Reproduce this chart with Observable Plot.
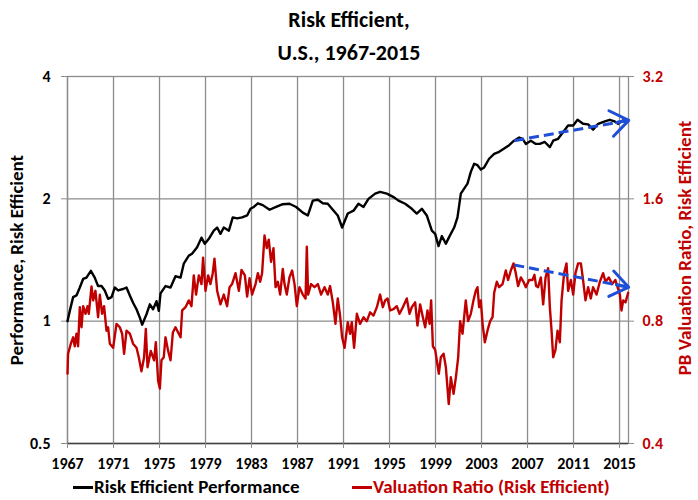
<!DOCTYPE html>
<html><head><meta charset="utf-8">
<script src="https://cdn.jsdelivr.net/npm/d3@7"></script>
<script src="https://cdn.jsdelivr.net/npm/@observablehq/plot@0.6"></script>
<style>
body{margin:0;background:#fff;}
#wrap{width:698px;height:500px;position:relative;background:#fff;font-family:Carlito,"Liberation Sans Narrow","Liberation Sans",Arial,sans-serif;}
#title{height:70px;box-sizing:border-box;padding-top:3px;text-align:center;font-weight:bold;font-size:22px;line-height:33px;color:#000;}
#chart svg{display:block;}
#legend{position:relative;height:27px;font-weight:bold;font-size:19px;line-height:27px;}
#legend .item{position:absolute;top:0;white-space:nowrap;}
#legend .swatch{display:inline-block;width:20px;height:2.5px;vertical-align:middle;margin-right:1px;position:relative;top:-1px;}
</style>
</head><body>
<div id="wrap">
  <div id="title"></div>
  <div id="chart"></div>
  <div id="legend"></div>
</div>
<script>
const titleLines = ["Risk Efficient,", "U.S., 1967-2015"];
const leftAxisTitle = "Performance, Risk Efficient";
const rightAxisTitle = "PB Valuation Ratio, Risk Efficient";
const seriesNames = ["Risk Efficient Performance", "Valuation Ratio (Risk Efficient)"];
const seriesColors = ["#000000", "#c00000"];

const xTicks = [1967,1971,1975,1979,1983,1987,1991,1995,1999,2003,2007,2011,2015];
const leftTicks = [0.5, 1, 2, 4];
const rightTicks = [0.4, 0.8, 1.6, 3.2];
const rightToLeft = 1.25; // right axis 0.4–3.2 sits on left axis 0.5–4

const perfYears = [1967.00,1967.20,1967.49,1967.78,1968.07,1968.36,1968.65,1969.03,1969.37,1969.66,1969.96,1970.24,1970.53,1970.83,1971.11,1971.40,1971.83,1972.13,1972.42,1972.70,1973.00,1973.29,1973.49,1973.87,1974.16,1974.44,1974.74,1974.94,1975.09,1975.52,1975.96,1976.39,1976.83,1977.11,1977.55,1977.83,1978.27,1978.65,1978.94,1979.29,1979.72,1980.01,1980.30,1980.59,1981.03,1981.37,1981.75,1982.18,1982.62,1982.91,1983.20,1983.55,1983.98,1984.57,1985.14,1985.72,1986.30,1986.88,1987.46,1987.90,1988.33,1988.77,1989.20,1989.63,1990.07,1990.50,1990.88,1991.37,1991.87,1992.30,1992.74,1993.17,1993.75,1994.18,1994.77,1995.35,1995.78,1996.36,1996.94,1997.37,1997.81,1998.24,1998.68,1998.97,1999.26,1999.55,1999.90,2000.18,2000.62,2000.91,2001.20,2001.49,2001.78,2002.07,2002.36,2002.65,2002.94,2003.23,2003.66,2004.10,2004.53,2004.97,2005.40,2005.83,2006.27,2006.57,2006.85,2007.29,2007.72,2008.07,2008.50,2008.94,2009.23,2009.66,2010.10,2010.53,2010.97,2011.35,2011.83,2012.27,2012.70,2013.14,2013.72,2014.15,2014.58,2014.87,2015.28,2015.72];
const perfValues = [1.00,1.06,1.146,1.157,1.21,1.27,1.28,1.33,1.28,1.22,1.22,1.19,1.135,1.146,1.21,1.19,1.20,1.21,1.157,1.11,1.07,1.02,0.98,1.04,1.10,1.07,1.12,1.06,1.17,1.22,1.21,1.29,1.28,1.385,1.45,1.465,1.52,1.605,1.55,1.595,1.67,1.70,1.64,1.70,1.67,1.80,1.79,1.80,1.82,1.89,1.91,1.95,1.93,1.88,1.91,1.94,1.945,1.91,1.85,1.82,1.98,1.99,1.95,1.945,1.88,1.82,1.70,1.84,1.87,1.945,1.91,2.00,2.06,2.08,2.06,2.02,1.98,1.945,1.89,1.84,1.89,1.82,1.67,1.64,1.53,1.62,1.55,1.61,1.70,1.80,2.06,2.12,2.18,2.33,2.44,2.42,2.36,2.39,2.51,2.58,2.61,2.66,2.71,2.78,2.83,2.81,2.73,2.78,2.73,2.73,2.76,2.68,2.78,2.81,2.92,3.03,3.03,3.13,3.06,3.05,2.96,3.06,3.10,3.13,3.10,3.06,3.12,3.10];

const ratioYears = [1967.00,1967.05,1967.29,1967.49,1967.63,1967.78,1967.92,1968.07,1968.22,1968.36,1968.57,1968.74,1968.85,1969.09,1969.23,1969.43,1969.66,1969.81,1970.01,1970.18,1970.39,1970.53,1970.68,1970.97,1971.26,1971.55,1971.75,1971.92,1972.13,1972.42,1972.70,1973.00,1973.20,1973.43,1973.66,1973.81,1973.96,1974.24,1974.53,1974.68,1974.88,1975.03,1975.17,1975.37,1975.52,1975.75,1975.96,1976.16,1976.39,1976.62,1976.83,1976.97,1977.26,1977.55,1977.78,1977.98,1978.18,1978.42,1978.65,1978.79,1979.00,1979.23,1979.43,1979.63,1979.78,1980.01,1980.30,1980.59,1980.88,1981.09,1981.31,1981.61,1981.90,1982.13,1982.42,1982.62,1982.83,1983.05,1983.35,1983.55,1983.75,1983.92,1984.13,1984.33,1984.50,1984.70,1984.91,1985.09,1985.29,1985.49,1985.72,1985.87,1986.07,1986.30,1986.53,1986.74,1986.94,1987.17,1987.46,1987.70,1987.81,1987.92,1988.18,1988.48,1988.77,1989.05,1989.35,1989.63,1989.83,1990.07,1990.30,1990.50,1990.70,1990.88,1991.09,1991.37,1991.57,1991.72,1991.92,1992.16,1992.44,1992.74,1993.03,1993.31,1993.61,1993.90,1994.18,1994.42,1994.62,1994.83,1995.05,1995.35,1995.63,1995.87,1996.16,1996.50,1996.74,1996.94,1997.23,1997.43,1997.66,1997.90,1998.10,1998.30,1998.48,1998.62,1998.77,1998.97,1999.11,1999.29,1999.46,1999.70,1999.90,2000.15,2000.33,2000.57,2000.77,2000.97,2001.14,2001.35,2001.63,2001.83,2002.07,2002.30,2002.50,2002.65,2002.79,2002.94,2003.09,2003.29,2003.52,2003.75,2003.96,2004.10,2004.33,2004.53,2004.83,2005.11,2005.31,2005.55,2005.78,2005.98,2006.18,2006.42,2006.65,2006.85,2007.14,2007.43,2007.60,2007.75,2007.92,2008.16,2008.36,2008.57,2008.79,2008.94,2009.09,2009.23,2009.43,2009.61,2009.81,2009.96,2010.18,2010.39,2010.53,2010.77,2010.97,2011.17,2011.40,2011.64,2011.83,2012.04,2012.27,2012.50,2012.70,2013.00,2013.29,2013.57,2013.78,2014.07,2014.36,2014.64,2014.83,2015.03,2015.17,2015.32,2015.52,2015.75];
const ratioValues = [0.594,0.665,0.704,0.730,0.694,0.745,0.694,0.866,0.773,0.871,0.834,0.871,0.834,0.974,0.90,0.95,0.818,0.93,0.834,0.871,0.758,0.773,0.704,0.688,0.788,0.773,0.745,0.665,0.758,0.745,0.704,0.688,0.652,0.602,0.652,0.765,0.616,0.676,0.641,0.71,0.571,0.546,0.641,0.652,0.73,0.676,0.641,0.75,0.773,0.75,0.73,0.85,0.866,0.90,0.871,1.037,0.93,1.037,0.987,1.146,0.95,1.037,0.987,1.05,1.14,0.95,0.88,0.93,0.871,0.97,0.987,1.05,0.95,1.07,1.037,0.92,1.02,0.93,0.987,1.05,1.00,1.05,1.30,1.21,1.27,1.12,1.21,0.97,1.00,0.93,1.076,0.987,0.93,1.025,1.066,0.987,0.871,0.97,0.93,0.91,1.22,0.93,0.987,0.97,0.987,0.93,0.97,0.93,0.976,0.89,0.788,0.91,0.826,0.73,0.688,0.795,0.745,0.795,0.688,0.834,0.788,0.818,0.80,0.841,0.826,0.866,0.93,0.866,0.90,0.91,0.85,0.856,0.871,0.834,0.866,0.91,0.834,0.866,0.89,0.78,0.88,0.818,0.773,0.85,0.788,0.90,0.694,0.68,0.641,0.594,0.652,0.665,0.616,0.50,0.582,0.53,0.582,0.652,0.80,0.745,0.90,0.80,0.834,0.90,0.95,0.97,0.866,0.90,0.788,0.71,0.758,0.80,0.818,0.94,1.00,0.97,0.987,1.066,1.01,1.066,1.11,1.05,0.976,1.025,1.00,0.97,1.01,1.01,1.04,0.976,0.97,1.025,0.88,1.025,1.08,0.866,0.758,0.652,0.68,0.758,0.71,0.90,1.05,1.11,0.95,1.01,0.93,1.05,1.11,1.11,1.01,0.90,0.97,0.91,0.97,0.93,1.00,1.05,1.00,1.025,0.987,1.01,0.97,0.93,0.85,0.90,0.89,0.94];

// dashed trend arrows (annotation): start and end year, values in each series' units
const arrowYears = [2005.85, 2015.8];
const perfArrowValues = [2.78, 3.12];
const ratioArrowValues = [1.10, 0.97];

const FONT = 'Carlito, "Liberation Sans Narrow", "Liberation Sans", Arial, sans-serif';
const BLUE = "#1f4fd6";

document.getElementById("title").innerHTML = titleLines.map(s => `<div>${s}</div>`).join("");

const perf = perfYears.map((t, i) => ({t, v: perfValues[i]}));
const ratio = ratioYears.map((t, i) => ({t, v: ratioValues[i] * rightToLeft}));

function arrowMarks(vals, scale) {
  const [x1, x2] = arrowYears;
  const y1 = vals[0] * scale, y2 = vals[1] * scale;
  return [
    Plot.link([0], {x1: () => x1, y1: () => y1, x2: () => x2, y2: () => y2,
      stroke: BLUE, strokeWidth: 3, strokeDasharray: "10,5", insetEnd: 4}),
    // solid head only: shaft mostly removed by insetStart
    Plot.arrow([0], {x1: () => x1, y1: () => y1, x2: () => x2, y2: () => y2,
      stroke: BLUE, strokeWidth: 3, headLength: 11, headAngle: 72, insetStart: 104})
  ];
}

const chart = Plot.plot({
  width: 698, height: 403,
  marginTop: 6, marginBottom: 30, marginLeft: 67, marginRight: 70,
  style: {fontFamily: FONT, fontSize: "16px", fontWeight: "bold", background: "#fff", overflow: "visible"},
  x: {domain: [1967, 2015.78]},
  y: {type: "log", domain: [0.5, 4]},
  marks: [
    Plot.gridX(xTicks, {stroke: "#8c8c8c", strokeOpacity: 1, strokeWidth: 1.3}),
    Plot.gridY([1, 2], {stroke: "#8c8c8c", strokeOpacity: 1, strokeWidth: 1.3}),
    Plot.frame({stroke: "#8c8c8c", strokeWidth: 1.3}),
    Plot.ruleY([0.5], {stroke: "#404040", strokeWidth: 1.5}),
    Plot.axisX(xTicks, {tickFormat: d3.format("d"), tickSize: 5, tickPadding: 9, stroke: "#8c8c8c", fill: "#000", label: null, fontSize: 16}),
    Plot.axisY(leftTicks, {anchor: "left", tickFormat: d => String(d), tickSize: 6, tickPadding: 11, stroke: "#8c8c8c", fill: "#000", label: null, fontSize: 16}),
    Plot.axisY(rightTicks.map(v => v * rightToLeft), {anchor: "right", tickFormat: d => (d / rightToLeft).toFixed(1), tickSize: 5, tickPadding: 9, stroke: "#8c8c8c", fill: "#c00000", label: null, fontSize: 16}),
    Plot.line(perf, {x: "t", y: "v", stroke: seriesColors[0], strokeWidth: 2.4}),
    Plot.line(ratio, {x: "t", y: "v", stroke: seriesColors[1], strokeWidth: 2.4}),
    ...arrowMarks(perfArrowValues, 1),
    ...arrowMarks(ratioArrowValues, rightToLeft),
    Plot.text([leftAxisTitle], {text: d => d, frameAnchor: "left", textAnchor: "middle", rotate: -90, dx: -51, fontSize: 19, fontWeight: "bold", fill: "#000"}),
    Plot.text([rightAxisTitle], {text: d => d, frameAnchor: "right", textAnchor: "middle", rotate: -90, dx: 56, dy: -12, fontSize: 19, fontWeight: "bold", fill: "#c00000"})
  ]
});
document.getElementById("chart").appendChild(chart);

const legendLefts = [73, 352];
document.getElementById("legend").innerHTML = seriesNames.map((n, i) =>
  `<span class="item" style="left:${legendLefts[i]}px;color:${seriesColors[i]}"><span class="swatch" style="background:${seriesColors[i]}"></span>${n}</span>`
).join("");
</script>
</body></html>
